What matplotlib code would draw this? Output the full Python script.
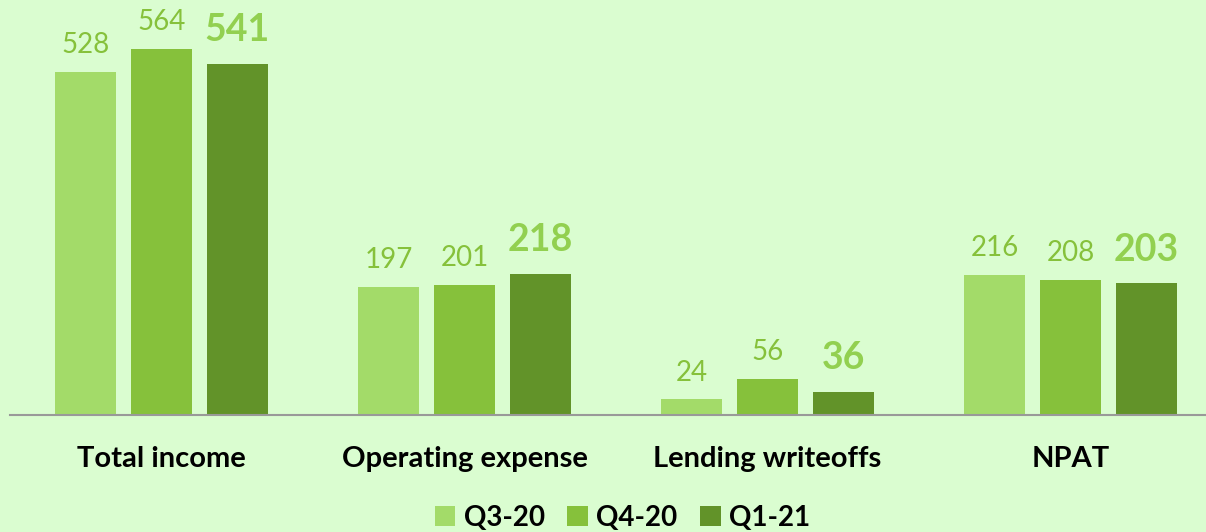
import numpy as np
import matplotlib.pyplot as plt

categories = ['Total income', 'Operating expense', 'Lending writeoffs', 'NPAT']
periods = ['Q3-20', 'Q4-20', 'Q1-21']
q3_20 = [528, 197, 24, 216]
q4_20 = [564, 201, 56, 208]
q1_21 = [541, 218, 36, 203]

colors = ['#A3DB69', '#86C13B', '#629329']
bg = '#DAFDD0'

plt.rcParams['font.family'] = ['Lato', 'DejaVu Sans']

fig = plt.figure(figsize=(12.06, 5.32), dpi=100, facecolor=bg)
ax = fig.add_axes([10 / 1206, 1 - 415 / 532, 1196 / 1206, 366 / 532 * 620 / 564])
ax.set_facecolor(bg)

x = np.arange(len(categories))
w = 0.2
step = 0.25
series = [q3_20, q4_20, q1_21]
for i, (vals, c, lab) in enumerate(zip(series, colors, periods)):
    pos = x + (i - 1) * step
    ax.bar(pos, vals, width=w, color=c, label=lab, zorder=2)
    for p, v in zip(pos, vals):
        if i == 2:
            # latest quarter gets the bold, larger label
            ax.annotate(str(v), (p, v), xytext=(0, 12), textcoords='offset points',
                        ha='center', va='bottom', fontsize=27, fontweight='bold',
                        color='#92D050')
        else:
            ax.annotate(str(v), (p, v), xytext=(0, 10), textcoords='offset points',
                        ha='center', va='bottom', fontsize=20, color='#86C13B')

ax.set_xlim(-0.5, 1196 / 303 - 0.5)
ax.set_ylim(0, 620)
ax.set_yticks([])
ax.set_xticks(x)
ax.set_xticklabels(categories, fontsize=21, fontweight='bold')
ax.tick_params(axis='x', length=0, pad=22)
for s in ['top', 'right', 'left']:
    ax.spines[s].set_visible(False)
ax.spines['bottom'].set_color('#999999')
ax.spines['bottom'].set_linewidth(1.5)

fig.legend(loc='lower center', bbox_to_anchor=(0.516, -0.045), ncol=3, frameon=False,
           prop={'size': 20, 'weight': 'bold'}, handlelength=0.75, handleheight=0.75,
           handletextpad=0.3, columnspacing=0.8)

fig.savefig('out.png', dpi=100, facecolor=bg)
